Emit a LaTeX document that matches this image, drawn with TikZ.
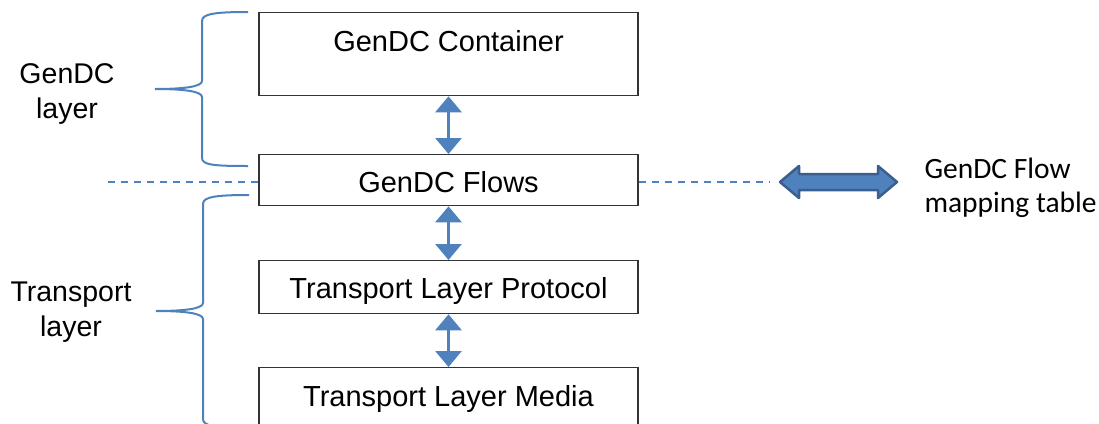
\documentclass[tikz,border=0pt]{standalone}
\usepackage{fontspec}
\setmainfont{Liberation Sans}
\newfontfamily\calib{Carlito}
\usetikzlibrary{arrows.meta}
\definecolor{obl}{HTML}{4F81BD}
\definecolor{obd}{HTML}{3A5F8E}
\definecolor{bxc}{HTML}{333333}
\begin{document}
\begin{tikzpicture}[x=1pt,y=-1pt,
  box/.style={draw=bxc,line width=1.3pt,minimum width=379pt,inner ysep=0pt,anchor=north,
    font=\fontsize{29}{34}\selectfont},
  brace/.style={draw=obl,line width=2pt},
  dline/.style={draw=obl,line width=2pt,dash pattern=on 7pt off 6pt},
  varrow/.style={draw=obl,line width=3pt,{Triangle[width=26pt,length=16pt]}-{Triangle[width=26pt,length=16pt]}},
  lbl/.style={align=center,font=\fontsize{28.5}{34.5}\selectfont}]
\useasboundingbox (0,0) rectangle (1099,423);
\clip (0,0) rectangle (1099,423);
% boxes
\node[box,text height=39pt,text depth=44pt] (cont) at (448.5,12) {GenDC Container};
\node[box,text height=38pt,text depth=13pt] (flows) at (448.5,154) {GenDC Flows};
\node[box,text height=38pt,text depth=15pt] (proto) at (448.5,260) {Transport Layer Protocol};
\node[box,text height=39pt,text depth=40pt] (media) at (448.5,367) {Transport Layer Media};
% vertical arrows
\draw[varrow] (cont.south) -- (flows.north);
\draw[varrow] (flows.south) -- (proto.north);
\draw[varrow] (proto.south) -- (media.north);
% dashed lines
\coordinate (dl) at (108,182);
\coordinate (dr) at (770,182);
\draw[dline] (dl) -- (flows.west |- dl);
\draw[dline] (flows.east |- dr) -- (dr);
% braces
\draw[brace] (248,12) .. controls (214,12) and (202,14) .. (202,21) -- (202,81)
  .. controls (202,87) and (182,89) .. (155,89) .. controls (182,89) and (202,91) .. (202,97)
  -- (202,158) .. controls (202,165) and (214,166) .. (248,166);
\draw[brace] (249,195) .. controls (215,195) and (203,197) .. (203,204) -- (203,303)
  .. controls (203,309) and (183,311) .. (156,311) .. controls (183,311) and (203,313) .. (203,319)
  -- (203,419) .. controls (203,426) and (215,428) .. (249,428);
% left labels
\node[lbl] (glay) at (67,94) {GenDC\\layer};
\node[lbl] (tlay) at (71,312) {Transport\\layer};
% thick double arrow
\filldraw[fill=obl,draw=obd,line width=2.5pt,line join=round]
  (780,182) -- (799,166) -- (799,174) -- (878,174) -- (878,166) -- (897,182)
  -- (878,198) -- (878,190) -- (799,190) -- (799,198) -- cycle;
\node[anchor=west,align=left,font=\calib\fontsize{29.5}{34}\selectfont] (map) at (921,188) {GenDC Flow\\mapping table};
\end{tikzpicture}
\end{document}
